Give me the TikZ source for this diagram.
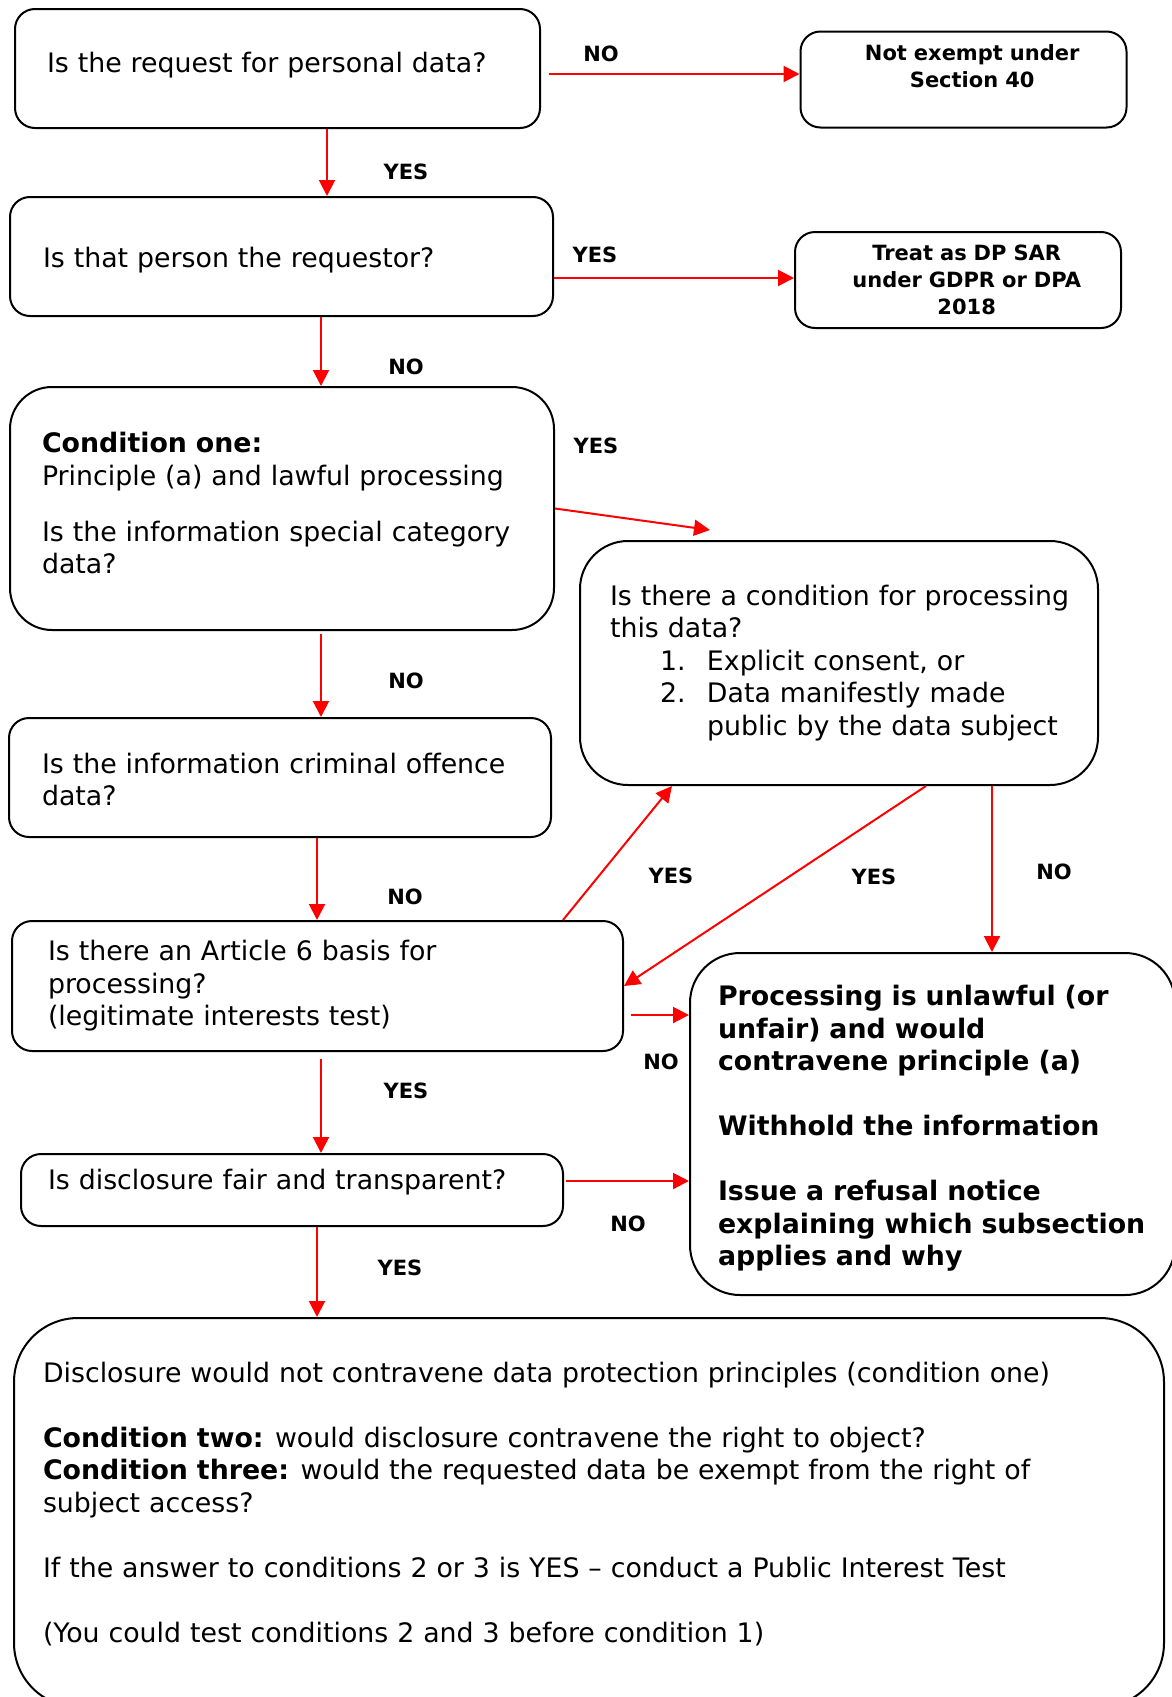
\documentclass[tikz,border=0pt]{standalone}
\usepackage{fontspec}
\setmainfont{DejaVu Sans}
\usepackage{tikz}
\usetikzlibrary{shapes,arrows.meta,positioning}
\tikzstyle{box} = [draw, rounded corners=10pt, line width=1pt, align=left,
    inner ysep=0pt, font=\fontsize{13.4}{16.25}\selectfont]
\tikzstyle{endbox} = [box, align=center, inner xsep=5pt, text width=153pt,
    minimum height=48pt, font=\fontsize{10.5}{13.6}\selectfont\bfseries]
\tikzstyle{lbl} = [inner sep=0pt, font=\fontsize{10.5}{12}\selectfont\bfseries]
\tikzstyle{link} = [draw, red, line width=1pt, -{Triangle[length=8pt,width=8pt]}]

\begin{document}
\begin{tikzpicture}[x=0.5pt, y=-0.5pt]
  \useasboundingbox (0,0) rectangle (1172,1697);
  \clip (0,0) rectangle (1172,1697);
  % questions down the left
  \node [box, text width=230.5pt, inner xsep=16pt, minimum height=59.5pt] (q1) at (277.5,68.5)
    {Is the request for personal data?\\[-9.85pt]\mbox{}};
  \node [box, text width=238.5pt, inner xsep=16.5pt, minimum height=59.5pt] (q2) at (281.5,256.5)
    {\mbox{}\\[-2.85pt]Is that person the requestor?};
  \node [box, rounded corners=21pt, text width=240pt, inner xsep=16pt, minimum height=121.5pt] (q3) at (282,508.5)
    {\textbf{Condition one:}\\
     Principle (a) and lawful processing\\[11.75pt]
     \mbox{Is the information special category}\\
     data?\\[-10.85pt]\mbox{}};
  \node [box, text width=238pt, inner xsep=16.5pt, minimum height=59.5pt] (q5) at (280,777.5)
    {\mbox{}\\[-3.85pt]\mbox{Is the information criminal offence}\\ data?};
  \node [box, text width=269.5pt, inner xsep=18pt, minimum height=65pt] (q6) at (317.5,986)
    {Is there an Article 6 basis for\\ processing?\\ (legitimate interests test)};
  \node [box, text width=244pt, inner xsep=13.5pt, minimum height=36pt] (q8) at (292,1190)
    {Is disclosure fair and transparent?\\[-5.45pt]\mbox{}};
  % outcomes on the right
  \node [endbox] (nx) at (963.5,79.5)
    {\hspace*{8.7pt}Not exempt under\\ \hspace*{8.7pt}Section 40\\ \mbox{}};
  \node [endbox] (tr) at (958,280)
    {\hspace*{8.7pt}Treat as DP SAR\\ \hspace*{8.7pt}under GDPR or DPA\\ \hspace*{8.7pt}2018};
  \node [box, rounded corners=24pt, text width=229pt, inner xsep=15pt, minimum height=122pt] (q4) at (839,663)
    {\mbox{Is there a condition for processing}\\
     this data?\\
     \hspace*{25pt}\makebox[23.5pt][l]{1.}Explicit consent, or\\
     \hspace*{25pt}\makebox[23.5pt][l]{2.}Data manifestly made\\
     \hspace*{48.5pt}public by the data subject};
  \node [box, rounded corners=25pt, text width=214.5pt, inner xsep=14pt, minimum height=171pt,
    font=\fontsize{13.4}{16.25}\selectfont\bfseries] (q7) at (932.5,1124)
    {\mbox{}\\[-1.65pt]\mbox{Processing is unlawful (or}\\
     unfair) and would\\
     contravene principle (a)\\[16.25pt]
     Withhold the information\\[16.25pt]
     Issue a refusal notice\\
     \mbox{explaining which subsection}\\
     applies and why};
  \node [box, rounded corners=32pt, text width=546pt, inner xsep=14.5pt, minimum height=194.5pt] (q9) at (589,1512.5)
    {Disclosure would not contravene data protection principles (condition one)\\[16.25pt]
     \textbf{Condition two:}\hspace{-1pt} would disclosure contravene the right to object?\\
     \textbf{Condition three:}\hspace{-1pt} would the requested data be exempt from the right of\\
     subject access?\\[16.25pt]
     If the answer to conditions 2 or 3 is YES -- conduct a Public Interest Test\\[16.25pt]
     (You could test conditions 2 and 3 before condition 1)\\[-5.8pt]\mbox{}};
  % connectors
  \draw [link] ([xshift=4pt,yshift=-2.75pt]q1.east) -- ([yshift=-2.75pt]q1.east -| nx.west);
  \draw [link] ([xshift=24.75pt]q1.south) -- ([xshift=24.75pt]q1.south |- q2.north);
  \draw [link] ([yshift=-10.75pt]q2.east) -- ([yshift=-10.75pt]q2.east -| tr.west);
  \draw [link] ([xshift=19.75pt]q2.south) -- ([xshift=19.75pt]q2.south |- q3.north);
  \draw [link] (q3.east) -- ([xshift=65.5pt,yshift=5pt]q4.north west);
  \draw [link] ([xshift=19.5pt,yshift=-1.5pt]q3.south) -- ([xshift=19.5pt]q3.south |- q5.north);
  \draw [link] ([xshift=18.5pt]q5.south) -- ([xshift=18.5pt]q5.south |- q6.north);
  \draw [link] ([xshift=122.75pt]q6.north) -- ([xshift=-83.5pt]q4.south);
  \draw [link] ([xshift=43.5pt]q4.south) -- (q6.east);
  \draw [link] ([xshift=76.5pt]q4.south) -- ([xshift=76.5pt]q4.south |- q7.north);
  \draw [link] ([xshift=3.5pt,yshift=-14.5pt]q6.east) -- ([yshift=-14.5pt]q6.east -| q7.west);
  \draw [link] ([xshift=1.75pt,yshift=-3.5pt]q6.south) -- ([xshift=1.75pt]q6.south |- q8.north);
  \draw [link] ([xshift=1pt,yshift=4.5pt]q8.east) -- ([yshift=4.5pt]q8.east -| q7.west);
  \draw [link] ([xshift=12.5pt]q8.south) -- ([xshift=12.5pt]q8.south |- q9.north);
  % yes / no labels
  \node [lbl] (no1) at (601,54) {NO};
  \node [lbl] (yes1) at (406,172) {YES};
  \node [lbl] (yes2) at (595,255) {YES};
  \node [lbl] (no2) at (406,367) {NO};
  \node [lbl] (yes3) at (596,446) {YES};
  \node [lbl] (no3) at (406,681) {NO};
  \node [lbl] (no4) at (405,897) {NO};
  \node [lbl] (yes4) at (671,876) {YES};
  \node [lbl] (yes5) at (874,877) {YES};
  \node [lbl] (no5) at (1054,872) {NO};
  \node [lbl] (no6) at (661,1062) {NO};
  \node [lbl] (yes6) at (406,1091) {YES};
  \node [lbl] (no7) at (628,1224) {NO};
  \node [lbl] (yes7) at (400,1268) {YES};
\end{tikzpicture}
\end{document}
